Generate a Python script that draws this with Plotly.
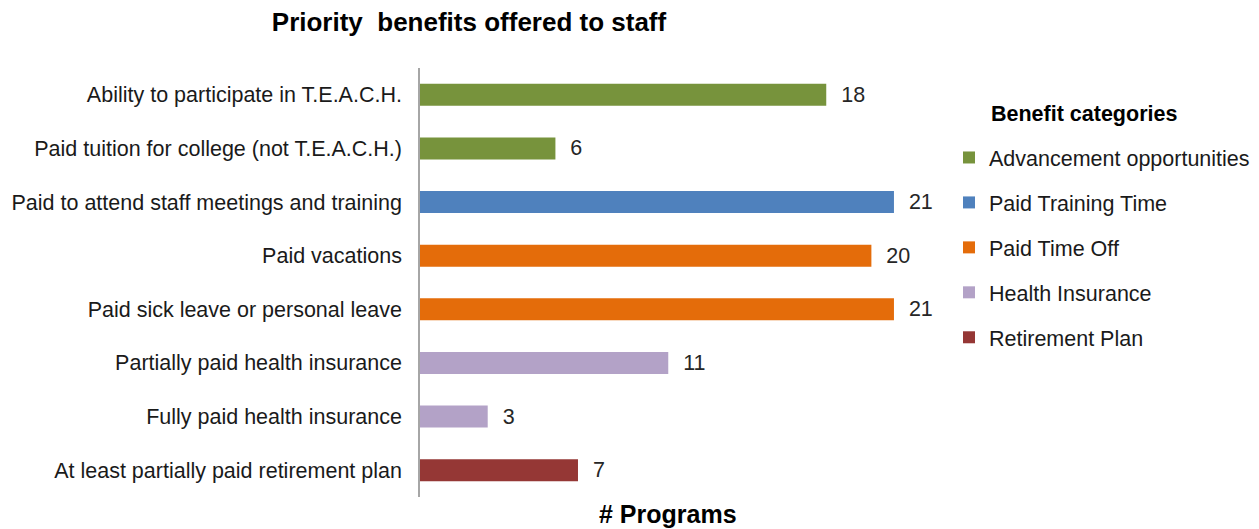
import plotly.graph_objects as go

benefits = [
    "Ability to participate in T.E.A.C.H.",
    "Paid tuition for college (not T.E.A.C.H.)",
    "Paid to attend staff meetings and training",
    "Paid vacations",
    "Paid sick leave or personal leave",
    "Partially paid health insurance",
    "Fully paid health insurance",
    "At least partially paid retirement plan",
]
programs = [18, 6, 21, 20, 21, 11, 3, 7]
category_of = [
    "Advancement opportunities", "Advancement opportunities",
    "Paid Training Time",
    "Paid Time Off", "Paid Time Off",
    "Health Insurance", "Health Insurance",
    "Retirement Plan",
]
categories = ["Advancement opportunities", "Paid Training Time", "Paid Time Off",
              "Health Insurance", "Retirement Plan"]
colors = ["#77933C", "#4F81BD", "#E46C0A", "#B3A2C7", "#953735"]

FONT = "Liberation Sans, Arial, sans-serif"
W, H = 1251, 521  # page body has an 8px margin

fig = go.Figure()
for cat, col in zip(categories, colors):
    ys = [b for b, c in zip(benefits, category_of) if c == cat]
    xs = [v for v, c in zip(programs, category_of) if c == cat]
    fig.add_trace(go.Bar(
        x=xs, y=ys, orientation="h", name=cat, legendgroup=cat,
        marker=dict(color=col, line=dict(width=0)),
        width=0.41,
        text=[f"  {v}" for v in xs], textposition="outside",
        constraintext="none",
        textfont=dict(size=21.5, color="#262626", family=FONT),
        cliponaxis=False,
    ))

fig.update_layout(
    width=W, height=H,
    paper_bgcolor="white", plot_bgcolor="white",
    margin=dict(l=412, r=319, t=60, b=32),
    font=dict(family=FONT, size=21.5, color="#1a1a1a"),
    title=dict(text="<b>Priority  benefits offered to staff</b>", x=461/W, xanchor="center",
               y=1 - 14/H, yanchor="middle", font=dict(size=26, color="#000")),
    barmode="overlay",
    showlegend=True,
    legend=dict(
        xref="container", yref="container",
        x=941/W, y=1 - 129/H, xanchor="left", yanchor="top",
        font=dict(size=21.5, color="#1a1a1a"),
        tracegroupgap=14, traceorder="grouped",
        bgcolor="rgba(0,0,0,0)",
    ),
    xaxis=dict(range=[0, 23.04], showgrid=False, zeroline=False, showticklabels=False,
               showline=False, ticks="", automargin=False),
    yaxis=dict(categoryorder="array", categoryarray=benefits, autorange="reversed",
               showgrid=False, zeroline=False, showline=True, linecolor="#A6A6A6", linewidth=1.5,
               ticks="", ticklabelstandoff=12, automargin=False,
               tickfont=dict(size=21.5, color="#1a1a1a")),
    annotations=[
        dict(text="<b>Benefit categories</b>", xref="paper", yref="paper",
             x=(981 - 412) / 520, y=1 - (106 - 60) / 429,
             xanchor="left", yanchor="middle", showarrow=False,
             font=dict(size=21.5, color="#000")),
        dict(text="<b># Programs</b>", xref="paper", yref="paper",
             x=(660 - 412) / 520, y=-(506 - 489) / 429,
             xanchor="center", yanchor="middle", showarrow=False,
             font=dict(size=25, color="#000")),
    ],
)

fig.write_html("out.html")
